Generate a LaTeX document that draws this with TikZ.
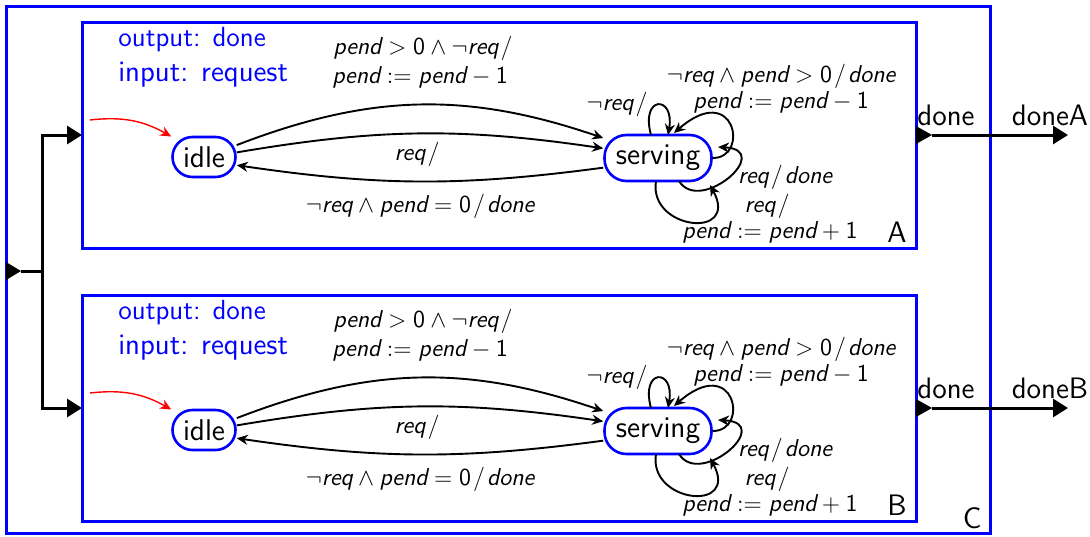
\documentclass[tikz,border=0pt]{standalone}
\usetikzlibrary{arrows.meta,calc}
\newcommand\vv[1]{\textsf{\itshape #1}}
\newcommand\nn[1]{\textsf{#1}}
\newcommand\slsh{\mkern1.5mu\textsf{/}\mkern1.5mu}
\begin{document}
\begin{tikzpicture}[x=0.5pt,y=-0.5pt,
  box/.style={draw=blue,line width=1.5pt},
  state/.style={draw=blue,line width=1.3pt,rounded corners=10pt,minimum height=20pt,inner xsep=3pt,inner ysep=0pt,font=\sffamily\fontsize{15}{17}\selectfont},
  edge/.style={draw,line width=0.95pt,-{Stealth[length=5.5pt,width=5pt]}},
  initarr/.style={draw=red,line width=0.7pt,-{Stealth[length=5.5pt,width=5pt]}},
  lbl/.style={font=\fontsize{12.2}{14}\selectfont,inner sep=0pt},
  big/.style={font=\sffamily\fontsize{14.8}{17}\selectfont,inner sep=0pt},
  wire/.style={line width=1.5pt},
  wirearr/.style={line width=1.5pt,-{Triangle[length=7.5pt,width=9pt]}},
  porttri/.style={fill=black},
  ]
\useasboundingbox (0,0) rectangle (1090,536);
% outer box C
\draw[box] (6,6) rectangle (990,533);
\node[big] (labC) at (972,518) {C};
% input of C
\coordinate (inC) at (6,271);
\coordinate (inCtip) at (21,271);
\coordinate (split) at (42,271);
\fill[porttri] (6,262) -- (inCtip) -- (6,280) -- cycle;
\draw[wire] (inCtip) -- (split);
\foreach \n/\dy in {A/0,B/273}{
\begin{scope}[shift={(0,\dy)}]
  \draw[box] (82,22) rectangle (916,248);
  \coordinate (portin\n) at (82,135);
  \coordinate (portout\n) at (916,135);
  \coordinate (portouttip\n) at (932,135);
  \coordinate (ext\n) at (1068,135);
  \node[big,blue,anchor=west,font=\sffamily\fontsize{13.8}{16}\selectfont] (out\n) at (118,40) {output: done};
  \node[big,blue,anchor=west] (in\n) at (118,75) {input: request};
  \node[state,minimum width=31.5pt] (idle\n) at (204,157) {idle};
  \node[state,minimum width=53.5pt,minimum height=23pt,rounded corners=11pt] (serv\n) at (658,158) {serving};
  \coordinate (init\n) at (90,120);
  \draw[initarr] (init\n) to[bend left=18] (idle\n.148);
  % transitions idle <-> serving
  \draw[edge] (idle\n.20) to[bend left=20] (serv\n.160);
  \draw[edge] (idle\n.8) to[bend left=9] (serv\n.170);
  \draw[edge] (serv\n.190) to[bend left=8] (idle\n.-14);
  % self loops
  \draw[edge] ($(serv\n)+(-7,-23)$) .. controls ($(serv\n)+(-18,-63)$) and ($(serv\n)+(17,-63)$) .. ($(serv\n)+(10,-23)$);
  \draw[edge] (serv\n.east) .. controls ($(serv\n)+(92,0)$) and ($(serv\n)+(77,-78)$) .. ($(serv\n)+(16,-25)$);
  \draw[edge] ($(serv\n)+(21,23)$) .. controls ($(serv\n)+(42,57)$) and ($(serv\n)+(117,-8)$) .. ($(serv\n)+(60,-11)$);
  \draw[edge] ($(serv\n)+(-2,23)$) .. controls ($(serv\n)+(-10,72)$) and ($(serv\n)+(82,82)$) .. ($(serv\n)+(52,27)$);
  % labels
  \node[lbl] (l1\n) at (424,48) {$\vv{pend} > \nn{0} \land \neg\vv{req}\slsh$};
  \node[lbl] (l2\n) at (420,77) {$\vv{pend} \mathrel{:=} \vv{pend} - \nn{1}$};
  \node[lbl] (l3\n) at (418,154) {$\vv{req}\slsh$};
  \node[lbl] (l4\n) at (420,206) {$\neg\vv{req} \land \vv{pend} = \nn{0}\slsh\vv{done}$};
  \node[lbl] (l5\n) at (618,104) {$\neg\vv{req}\slsh$};
  \node[lbl] (l6\n) at (781,76) {$\neg\vv{req} \land \vv{pend} > \nn{0}\slsh\vv{done}$};
  \node[lbl] (l7\n) at (781,102) {$\vv{pend} \mathrel{:=} \vv{pend} - \nn{1}$};
  \node[lbl] (l8\n) at (785,177) {$\vv{req}\slsh\vv{done}$};
  \node[lbl] (l9\n) at (768,206) {$\vv{req}\slsh$};
  \node[lbl] (l10\n) at (770,232) {$\vv{pend} \mathrel{:=} \vv{pend} + \nn{1}$};
  \node[big] (lab\n) at (897,232) {\n};
  % output port
  \fill[porttri] (916,126) -- (portouttip\n) -- (916,144) -- cycle;
  \draw[wirearr] (portouttip\n) -- (ext\n);
  \node[big] (done\n) at (946,115) {done};
  \node[big] (ext\n lab) at (1050,115) {done\n};
\end{scope}
}
\draw[wirearr] (split) |- (portinA);
\draw[wirearr] (split) |- (portinB);
\end{tikzpicture}
\end{document}
